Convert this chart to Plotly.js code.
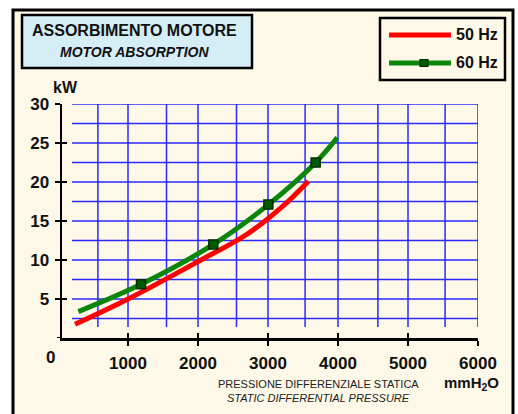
<!DOCTYPE html>
<html>
<head>
<meta charset="utf-8">
<script src="https://cdn.plot.ly/plotly-3.0.1.min.js"></script>
<style>html,body{margin:0;padding:0;background:#fff;}#chart{width:518px;height:414px;}</style>
</head>
<body>
<div id="chart"></div>
<script>
// ---- data ----
const hz50_x = [243, 1000, 2000, 2700, 3200, 3576];
const hz50_y = [1.75, 5.0, 9.8, 13.3, 16.8, 20.1];
const hz60_x = [291, 1186, 2219, 3005, 3681, 3990];
const hz60_y = [3.38, 6.88, 12.0, 17.1, 22.5, 25.7];
const hz60_mark_x = [1186, 2219, 3005, 3681];
const hz60_mark_y = [6.88, 12.0, 17.1, 22.5];
const xTicks = [1000, 2000, 3000, 4000, 5000, 6000];
const yTicks = [5, 10, 15, 20, 25, 30];
const gridX = [570, 1000, 1550, 2000, 2550, 3000, 3530, 4000, 4570, 5000, 5530, 6000];
const gridY = [2.5, 5, 7.5, 10, 12.5, 15, 17.5, 20, 22.5, 25, 27.5, 30];

// ---- layout helpers (pixel -> paper) ----
const L = 62, R = 478, T = 104, B = 338;
const fx = p => (p - L) / (R - L);
const fy = p => (B - p) / (B - T);
const CREAM = '#fdf8e8';
const FONT = 'Liberation Sans, Arial, Helvetica, sans-serif';

const shapes = [];
// outer frame
shapes.push({type:'rect', xref:'paper', yref:'paper', x0:fx(13), x1:fx(513), y0:fy(425), y1:fy(10),
  fillcolor:CREAM, line:{color:'#000', width:3}, layer:'below'});
// grid
gridX.forEach(v => shapes.push({type:'line', xref:'x', yref:'y', x0:v, x1:v, y0:1.4, y1:30,
  line:{color:'#2a2aff', width:1.5}, layer:'below'}));
gridY.forEach(v => shapes.push({type:'line', xref:'x', yref:'y', x0:200, x1:6000, y0:v, y1:v,
  line:{color:'#2a2aff', width:1.5}, layer:'below'}));
// y-axis tick at the origin (left side)
shapes.push({type:'line', xref:'paper', yref:'y', x0:fx(57), x1:fx(62), y0:0, y1:0,
  line:{color:'#000', width:2}});
// title box
shapes.push({type:'rect', xref:'paper', yref:'paper', x0:fx(22), x1:fx(252), y0:fy(68), y1:fy(15),
  fillcolor:'#d5edf5', line:{color:'#000', width:2.5}});
// legend box
shapes.push({type:'rect', xref:'paper', yref:'paper', x0:fx(380), x1:fx(505), y0:fy(80), y1:fy(18),
  fillcolor:CREAM, line:{color:'#000', width:2.5}});
shapes.push({type:'line', xref:'paper', yref:'paper', x0:fx(389), x1:fx(451), y0:fy(35), y1:fy(35),
  line:{color:'#ff0000', width:5}});
shapes.push({type:'line', xref:'paper', yref:'paper', x0:fx(389), x1:fx(451), y0:fy(63), y1:fy(63),
  line:{color:'#0a860a', width:5}});
shapes.push({type:'rect', xref:'paper', yref:'paper', x0:fx(420), x1:fx(428), y0:fy(66.5), y1:fy(59.5),
  fillcolor:'#005a00', line:{color:'#002e00', width:1.2}});

const ann = (x, y, text, size, opts={}) => Object.assign({xref:'paper', yref:'paper', x:fx(x), y:fy(y),
  text, showarrow:false, xanchor:'center', yanchor:'middle',
  font:{family:FONT, size, color:'#111'}}, opts);

const annotations = [
  ann(134.5, 30, '<b>ASSORBIMENTO MOTORE</b>', 16),
  ann(134.5, 52, '<b><i>MOTOR ABSORPTION</i></b>', 14),
  ann(454, 35, '<b>50 Hz</b>', 16, {xanchor:'left'}),
  ann(454, 63, '<b>60 Hz</b>', 16, {xanchor:'left'}),
  ann(65, 87, '<b>kW</b>', 16),
  ann(50, 357, '<b>0</b>', 17),
  ann(471, 383, '<b>mmH<sub>2</sub>O</b>', 15),
  ann(318, 384, 'PRESSIONE DIFFERENZIALE STATICA', 11, {font:{family:FONT, size:11, color:'#222'}}),
  ann(318, 398, '<i>STATIC DIFFERENTIAL PRESSURE</i>', 11, {font:{family:FONT, size:11, color:'#222'}})
];

const traces = [
  {x:hz50_x, y:hz50_y, mode:'lines', line:{color:'#ff0000', width:5, shape:'spline', smoothing:1}, name:'50 Hz', hoverinfo:'skip'},
  {x:hz60_x, y:hz60_y, mode:'lines', line:{color:'#0a860a', width:5, shape:'spline', smoothing:1}, name:'60 Hz', hoverinfo:'skip'},
  {x:hz60_mark_x, y:hz60_mark_y, mode:'markers', marker:{symbol:'square', size:9, color:'#005a00',
    line:{color:'#002e00', width:1.5}}, name:'60 Hz', hoverinfo:'skip'},
  {x:[1000], y:[5], xaxis:'x2', yaxis:'y2', mode:'markers', marker:{opacity:0}, hoverinfo:'skip'}
];

const xr = [(L - 58) / 0.07, 6000];
const tickFont = {family:FONT, size:17, color:'#111', weight:'bold'};

const layout = {
  width:518, height:414,
  margin:{l:L, r:518 - R, t:T, b:414 - B, pad:0},
  paper_bgcolor:'#ffffff', plot_bgcolor:'rgba(0,0,0,0)',
  showlegend:false,
  xaxis:{range:xr, showgrid:false, zeroline:false, showline:true, linecolor:'#000', linewidth:2.5,
    ticks:'outside', ticklen:5, tickwidth:2, tickcolor:'#000',
    tickvals:xTicks, ticktext:xTicks.map(String), tickfont:tickFont, ticklabelstandoff:3},
  yaxis:{range:[0,30], showgrid:false, zeroline:false, showline:true, linecolor:'#000', linewidth:2.5,
    ticks:'outside', ticklen:5, tickwidth:2, tickcolor:'#000',
    tickvals:yTicks, ticktext:yTicks.map(String), tickfont:tickFont, ticklabelstandoff:2},
  xaxis2:{overlaying:'x', anchor:'y2', range:xr, showgrid:false, zeroline:false, showline:false,
    ticks:'inside', ticklen:5, tickwidth:2, tickcolor:'#000', tickvals:xTicks, showticklabels:false},
  yaxis2:{overlaying:'y', anchor:'x2', range:[0,30], showgrid:false, zeroline:false, showline:false,
    ticks:'inside', ticklen:5, tickwidth:2, tickcolor:'#000', tickvals:yTicks, showticklabels:false},
  shapes, annotations
};

Plotly.newPlot('chart', traces, layout, {staticPlot:true, displayModeBar:false});
</script>
</body>
</html>
